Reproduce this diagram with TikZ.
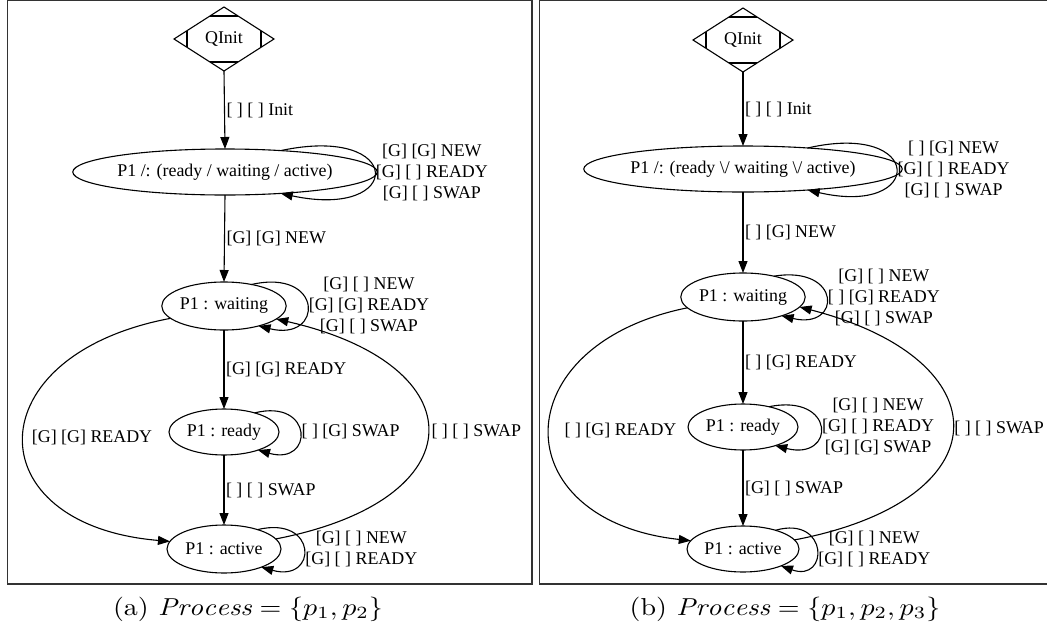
\documentclass[tikz,border=0pt]{standalone}
\usepackage{fontspec}
\newfontfamily\dotfont{Liberation Serif}
\usetikzlibrary{shapes.geometric,arrows.meta,calc}

\tikzset{
  dottext/.style={font=\dotfont\fontsize{17.9}{21}\selectfont},
  state/.style={dottext, draw, ellipse, inner sep=0pt, outer sep=0pt, line width=1.1pt},
  qinit/.style={dottext, draw, diamond, inner sep=0pt, outer sep=0pt,
    minimum width=100pt, minimum height=64pt, line width=1.1pt},
  tick/.style={line width=1.1pt},
  tr/.style={line width=1.1pt, -{Triangle[length=12pt,width=9pt]}},
  lbl/.style={dottext, inner sep=1.5pt, anchor=west, align=center},
  panel/.style={draw=black!80, line width=1.2pt},
  caption/.style={inner sep=0pt},
}

% Mdiamond: diamond with short bars across each corner
\newcommand{\mdticks}[1]{%
  \draw[tick] ($(#1.north)!0.28!(#1.west)$) -- ($(#1.north)!0.28!(#1.east)$);
  \draw[tick] ($(#1.south)!0.28!(#1.west)$) -- ($(#1.south)!0.28!(#1.east)$);
  \draw[tick] ($(#1.west)!0.26!(#1.north)$) -- ($(#1.west)!0.26!(#1.south)$);
  \draw[tick] ($(#1.east)!0.26!(#1.north)$) -- ($(#1.east)!0.26!(#1.south)$);
}

\begin{document}
\begin{tikzpicture}[x=1pt,y=-1pt]
\useasboundingbox (0,0) rectangle (1047,627);

% panel frames
\draw[panel] (7.5,0.6) rectangle (532,584);
\draw[panel] (1047,0.6) -- (539.5,0.6) -- (539.5,584) -- (1047,584);

% ---------- (a) two processes ----------
\node[qinit] (q1) at (224,39) {QInit};
\mdticks{q1}
\node[state, minimum width=256pt, minimum height=46pt] (s1) at (225,172)
  {P1 /: (ready / waiting / active)};
\node[state, minimum width=124pt, minimum height=48pt] (w1) at (224,306) {P1 : waiting};
\node[state, minimum width=110pt, minimum height=46pt] (r1) at (224,432) {P1 : ready};
\node[state, minimum width=114pt, minimum height=48pt] (a1) at (224,549) {P1 : active};

\draw[tr] (q1.south) -- (s1.north) node[lbl, midway] {[ ] [ ] Init};
\draw[tr] (s1.south) -- (w1.north) node[lbl, midway] {[G] [G] NEW};
\draw[tr] (w1.south) -- (r1.north) node[lbl, midway] {[G] [G] READY};
\draw[tr] (r1.south) -- (a1.north) node[lbl, midway] {[ ] [ ] SWAP};

\draw[tr] (s1.21) .. controls (405,124) and (405,220) .. (s1.339)
  node[lbl, pos=0.5] {[G] [G] NEW\\{}[G] [ ] READY\\{}[G] [ ] SWAP};
\draw[tr] (w1.38) .. controls (324,268) and (324,342) .. (w1.330)
  node[lbl, pos=0.5] {[G] [ ] NEW\\{}[G] [G] READY\\{}[G] [ ] SWAP};
\draw[tr] (r1.32) .. controls (314,398) and (314,466) .. (r1.332)
  node[lbl, pos=0.5] {[ ] [G] SWAP};
\draw[tr] (a1.30) .. controls (318,515) and (318,583) .. (a1.334)
  node[lbl, pos=0.5] {[G] [ ] NEW\\{}[G] [ ] READY};

\draw[tr] (w1.193) .. controls (-25,355) and (-25,525) .. (a1.172)
  node[lbl, pos=0.5, xshift=6pt] {[G] [G] READY};
\draw[tr] (a1.11) .. controls (478,500) and (478,365) .. (w1.346)
  node[lbl, pos=0.5, xshift=2pt] {[ ] [ ] SWAP};

\node[caption] (capa) at (248,609)
  {\scalebox{2.8}[2.45]{(a) $\mathit{Process} = \{p_1, p_2\}$}};

% ---------- (b) three processes ----------
\node[qinit] (q2) at (743,40) {QInit};
\mdticks{q2}
\node[state, minimum width=258pt, minimum height=46pt] (s2) at (743,169)
  {P1 /: (ready \textbackslash/ waiting \textbackslash/ active)};
\node[state, minimum width=122pt, minimum height=48pt] (w2) at (743,297) {P1 : waiting};
\node[state, minimum width=110pt, minimum height=46pt] (r2) at (743,427) {P1 : ready};
\node[state, minimum width=112pt, minimum height=46pt] (a2) at (743,549) {P1 : active};

\draw[tr] (q2.south) -- (s2.north) node[lbl, midway] {[ ] [ ] Init};
\draw[tr] (s2.south) -- (w2.north) node[lbl, midway] {[ ] [G] NEW};
\draw[tr] (w2.south) -- (r2.north) node[lbl, midway] {[ ] [G] READY};
\draw[tr] (r2.south) -- (a2.north) node[lbl, midway] {[G] [ ] SWAP};

\draw[tr] (s2.18) .. controls (925,121) and (925,217) .. (s2.342)
  node[lbl, pos=0.5] {[ ] [G] NEW\\{}[G] [ ] READY\\{}[G] [ ] SWAP};
\draw[tr] (w2.34) .. controls (842,265) and (842,330) .. (w2.334)
  node[lbl, pos=0.5] {[G] [ ] NEW\\{}[ ] [G] READY\\{}[G] [ ] SWAP};
\draw[tr] (r2.38) .. controls (836,393) and (836,461) .. (r2.330)
  node[lbl, pos=0.5] {[G] [ ] NEW\\{}[G] [ ] READY\\{}[G] [G] SWAP};
\draw[tr] (a2.30) .. controls (829,515) and (829,583) .. (a2.336)
  node[lbl, pos=0.5] {[G] [ ] NEW\\{}[G] [ ] READY};

\draw[tr] (w2.191) .. controls (503,345) and (503,520) .. (a2.171)
  node[lbl, pos=0.5, xshift=13pt] {[ ] [G] READY};
\draw[tr] (a2.10) .. controls (1004,500) and (1004,360) .. (w2.350)
  node[lbl, pos=0.5] {[ ] [ ] SWAP};

\node[caption] (capb) at (785,609)
  {\scalebox{2.8}[2.45]{(b) $\mathit{Process} = \{p_1, p_2, p_3\}$}};
\end{tikzpicture}
\end{document}
